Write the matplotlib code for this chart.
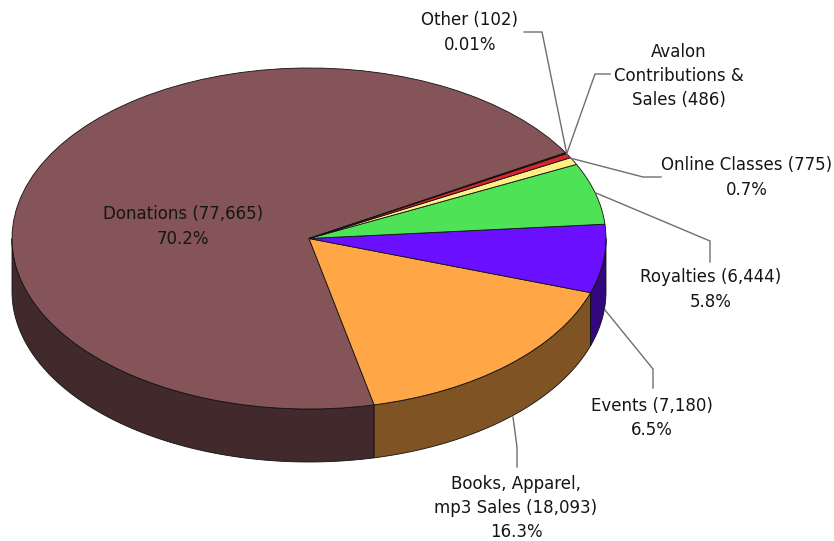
import numpy as np
import matplotlib
matplotlib.use('Agg')
import matplotlib.pyplot as plt

names = ['Donations', 'Books', 'Events', 'Royalties', 'Online Classes', 'Avalon', 'Other']
values = [77665, 18093, 7180, 6444, 775, 486, 102]
top_colors = ['#845458', '#ffa646', '#6a10ff', '#4ee356', '#fff085', '#d8262c', '#6b2024']
side_colors = ['#42292c', '#7f5324', '#33087f', '#277129', '#807842', '#701517', '#351012']

labels = ['Donations (77,665)\n70.2%',
          'Books, Apparel,\nmp3 Sales (18,093)\n16.3%',
          'Events (7,180)\n6.5%',
          'Royalties (6,444)\n5.8%',
          'Online Classes (775)\n0.7%',
          'Avalon\nContributions &\nSales (486)',
          'Other (102)\n0.01%']

W, H = 834, 541
cx, cy, rx, ry = 309, 238.5, 297, 170.5
depth = 53 / ry

fig = plt.figure(figsize=(W / 100, H / 100), dpi=100)
ax = fig.add_axes([0, 0, 1, 1])

wedges, _ = ax.pie(values, colors=top_colors, startangle=30.2, counterclock=True,
                   wedgeprops=dict(edgecolor='#111111', linewidth=0.6, zorder=3))
ax.set_aspect('auto')
ax.set_xlim(-cx / rx, (W - cx) / rx)
ax.set_ylim(-(H - cy) / ry, cy / ry)

# side wall, only the front half of the ellipse shows
for w, c in zip(wedges, side_colors):
    t1, t2 = w.theta1 % 360, w.theta2 % 360
    if t2 < t1:
        t2 += 360
    a, b = max(t1, 180), min(t2, 360)
    if a >= b:
        continue
    t = np.radians(np.linspace(a, b, 120))
    xs = np.r_[np.cos(t), np.cos(t[::-1])]
    ys = np.r_[np.sin(t), np.sin(t[::-1]) - depth]
    ax.fill(xs, ys, facecolor=c, edgecolor='#111111', linewidth=0.6, zorder=2)

# overlay in pixel coordinates for the callouts
ov = fig.add_axes([0, 0, 1, 1])
ov.set_xlim(0, W)
ov.set_ylim(H, 0)
ov.axis('off')

leaders = [
    [(524, 32), (542, 32), (567, 155)],
    [(610, 74), (595, 74), (567, 153)],
    [(661, 177), (643, 177), (570, 158)],
    [(596, 193), (710, 241), (710, 262)],
    [(605, 310), (653, 369), (653, 388)],
    [(513, 417), (517, 447), (517, 467)],
]
for pts in leaders:
    p = np.array(pts)
    ov.plot(p[:, 0], p[:, 1], color='#6e6e6e', lw=1.0, solid_joinstyle='miter')

label_pos = [(183, 226.5), (516, 508), (652, 418), (711, 289.5), (747, 177.5), (679, 76), (470, 32.5)]
for s, (x, y) in zip(labels, label_pos):
    ov.text(x, y, s, ha='center', va='center', multialignment='center',
            fontsize=12, color='#151515', linespacing=1.43, family='DejaVu Sans')

fig.savefig('out.png', dpi=100, facecolor='white')
